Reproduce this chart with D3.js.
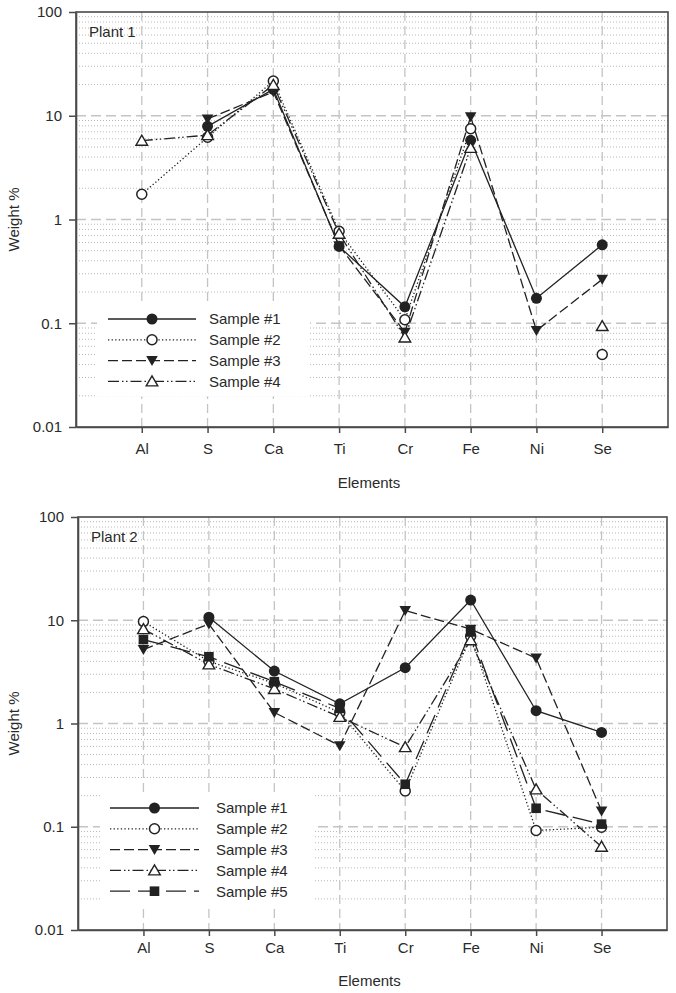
<!DOCTYPE html>
<html>
<head>
<meta charset="utf-8">
<script src="https://cdn.jsdelivr.net/npm/d3@7"></script>
<style>
  html, body { margin: 0; padding: 0; background: #fff; }
  svg { display: block; }
  text { font-family: "Liberation Sans", Arial, Helvetica, sans-serif; fill: #2a2a2a; }
</style>
</head>
<body>
<svg id="chart" width="676" height="993"></svg>
<script>
// ---------- DATA ----------
const elements = ["Al", "S", "Ca", "Ti", "Cr", "Fe", "Ni", "Se"];
const yTickValues = [0.01, 0.1, 1, 10, 100];
const yTickLabels = ["0.01", "0.1", "1", "10", "100"];
const panelTitles = ["Plant 1", "Plant 2"];
const xAxisTitle = "Elements";
const yAxisTitle = "Weight %";

const plant1Names = ["Sample #1", "Sample #2", "Sample #3", "Sample #4"];
const plant1Sample1 = [null, 7.9, 18.0, 0.55, 0.144, 5.8, 0.174, 0.57];
const plant1Sample2 = [1.75, 6.2, 21.6, 0.77, 0.108, 7.5, null, 0.050];
const plant1Sample3 = [null, 9.3, 17.0, 0.56, 0.082, 9.8, 0.085, 0.265];
const plant1Sample4 = [5.75, 6.5, 19.8, 0.73, 0.073, 4.9, null, 0.094];

const plant2Names = ["Sample #1", "Sample #2", "Sample #3", "Sample #4", "Sample #5"];
const plant2Sample1 = [null, 10.7, 3.22, 1.55, 3.47, 15.7, 1.33, 0.82];
const plant2Sample2 = [9.7, 4.0, 2.45, 1.28, 0.222, 7.0, 0.092, 0.099];
const plant2Sample3 = [5.2, 9.2, 1.28, 0.61, 12.4, 8.2, 4.3, 0.142];
const plant2Sample4 = [8.2, 3.74, 2.16, 1.16, 0.59, 6.4, 0.23, 0.064];
const plant2Sample5 = [6.5, 4.43, 2.54, 1.4, 0.258, 7.7, 0.151, 0.106];

// ---------- STYLES ----------
const seriesStyles = [
  { dash: null, marker: "circleFilled" },
  { dash: "1.3,2.3", marker: "circleOpen" },
  { dash: "10,4", marker: "triDown" },
  { dash: "11,3,1.5,2.5,1.5,3", marker: "triUp" },
  { dash: "20,8", marker: "square" }
];
const ink = "#222";

const svg = d3.select("#chart");

function drawMarker(g, type, x, y) {
  if (type === "circleFilled") {
    g.append("circle").attr("cx", x).attr("cy", y).attr("r", 5.5).attr("fill", ink);
  } else if (type === "circleOpen") {
    g.append("circle").attr("cx", x).attr("cy", y).attr("r", 5).attr("fill", "#fff")
      .attr("stroke", ink).attr("stroke-width", 1.5);
  } else if (type === "triDown") {
    g.append("path").attr("d", `M${x-5.8},${y-4.5}L${x+5.8},${y-4.5}L${x},${y+5.5}Z`).attr("fill", ink);
  } else if (type === "triUp") {
    g.append("path").attr("d", `M${x-5.8},${y+4.5}L${x+5.8},${y+4.5}L${x},${y-5.5}Z`).attr("fill", "#fff")
      .attr("stroke", ink).attr("stroke-width", 1.4);
  } else if (type === "square") {
    g.append("rect").attr("x", x-4.8).attr("y", y-4.8).attr("width", 9.6).attr("height", 9.6).attr("fill", ink);
  }
}

function drawPanel(cfg) {
  const { left, right, top, bottom, title, names, series, legend, tickLabelOffset, xTitleY } = cfg;
  const g = svg.append("g");
  const x = d3.scalePoint().domain(elements).range([left, right]).padding(1);
  const y = d3.scaleLog().domain([0.01, 100]).range([bottom, top]);

  // minor grid (dotted)
  const minors = [];
  for (let e = -2; e < 2; e++) for (let m = 2; m <= 9; m++) minors.push(m * Math.pow(10, e));
  g.append("g").selectAll("line").data(minors).join("line")
    .attr("x1", left).attr("x2", right)
    .attr("y1", d => y(d)).attr("y2", d => y(d))
    .attr("stroke", "#b8b8b8").attr("stroke-width", 1).attr("stroke-dasharray", "1,2");

  // major grid (dashed)
  g.append("g").selectAll("line").data(yTickValues.slice(1, -1)).join("line")
    .attr("x1", left).attr("x2", right)
    .attr("y1", d => y(d)).attr("y2", d => y(d))
    .attr("stroke", "#c4c4c4").attr("stroke-width", 1.6).attr("stroke-dasharray", "10,5");

  // vertical grid
  g.append("g").selectAll("line").data(elements).join("line")
    .attr("x1", d => x(d)).attr("x2", d => x(d))
    .attr("y1", top).attr("y2", bottom)
    .attr("stroke", "#c4c4c4").attr("stroke-width", 1.3).attr("stroke-dasharray", "9,5");

  // legend background
  const lg = legend;
  g.append("rect").attr("x", lg.bgX0).attr("y", lg.rowY0 - 15)
    .attr("width", lg.bgX1 - lg.bgX0).attr("height", lg.rowStep * (names.length - 1) + 30)
    .attr("fill", "#fff");

  // lines
  const line = d3.line()
    .defined(d => d.v != null)
    .x(d => x(d.el)).y(d => y(d.v));
  series.forEach((vals, i) => {
    const data = elements.map((el, j) => ({ el, v: vals[j] }));
    g.append("path").datum(data).attr("d", line)
      .attr("fill", "none").attr("stroke", ink).attr("stroke-width", 1.3)
      .attr("stroke-dasharray", seriesStyles[i].dash);
  });
  // markers
  series.forEach((vals, i) => {
    const mg = g.append("g");
    vals.forEach((v, j) => {
      if (v != null) drawMarker(mg, seriesStyles[i].marker, x(elements[j]), y(v));
    });
  });

  // legend
  names.forEach((n, i) => {
    const yy = lg.rowY0 + i * lg.rowStep;
    g.append("line").attr("x1", lg.lineX0).attr("x2", lg.lineX1).attr("y1", yy).attr("y2", yy)
      .attr("stroke", ink).attr("stroke-width", 1.3).attr("stroke-dasharray", seriesStyles[i].dash);
    drawMarker(g, seriesStyles[i].marker, (lg.lineX0 + lg.lineX1) / 2, yy);
    g.append("text").attr("x", lg.textX).attr("y", yy).attr("dy", "0.36em")
      .attr("font-size", 15).text(n);
  });

  // frame
  g.append("rect").attr("x", left).attr("y", top).attr("width", right - left).attr("height", bottom - top)
    .attr("fill", "none").attr("stroke", "#4a4a4a").attr("stroke-width", 1.6);

  // axes
  const xAxis = d3.axisBottom(x).tickSize(6).tickSizeOuter(0).tickPadding(tickLabelOffset);
  const xg = g.append("g").attr("transform", `translate(0,${bottom})`).call(xAxis);
  const yAxis = d3.axisLeft(y).tickValues(yTickValues).tickFormat((d, i) => yTickLabels[i])
    .tickSize(7).tickSizeOuter(0).tickPadding(7);
  const yg = g.append("g").attr("transform", `translate(${left},0)`).call(yAxis);
  [xg, yg].forEach(a => {
    a.select(".domain").attr("stroke", "#4a4a4a").attr("stroke-width", 1.6);
    a.selectAll(".tick line").attr("stroke", "#4a4a4a").attr("stroke-width", 1.5);
    a.selectAll(".tick text").attr("font-size", 15).attr("fill", "#2a2a2a")
      .attr("font-family", "Liberation Sans, Arial, sans-serif");
  });

  // titles
  g.append("text").attr("x", left + 13).attr("y", top + 25).attr("font-size", 15).text(title);
  g.append("text").attr("x", (left + right) / 2 - 3).attr("y", xTitleY).attr("dy", "0.36em")
    .attr("text-anchor", "middle").attr("font-size", 15).text(xAxisTitle);
  g.append("text").attr("transform", `translate(14,${(top + bottom) / 2}) rotate(-90)`)
    .attr("dy", "0.36em").attr("text-anchor", "middle").attr("font-size", 15).text(yAxisTitle);
}

drawPanel({
  left: 76, right: 668, top: 12, bottom: 427,
  title: panelTitles[0], names: plant1Names,
  series: [plant1Sample1, plant1Sample2, plant1Sample3, plant1Sample4],
  legend: { bgX0: 97, bgX1: 310, rowY0: 319, rowStep: 20.8, lineX0: 108, lineX1: 196, textX: 209 },
  tickLabelOffset: 10, xTitleY: 483
});

drawPanel({
  left: 78, right: 667, top: 517, bottom: 930,
  title: panelTitles[1], names: plant2Names,
  series: [plant2Sample1, plant2Sample2, plant2Sample3, plant2Sample4, plant2Sample5],
  legend: { bgX0: 100, bgX1: 313, rowY0: 808, rowStep: 20.8, lineX0: 110, lineX1: 199, textX: 216 },
  tickLabelOffset: 6, xTitleY: 981
});
</script>
</body>
</html>
